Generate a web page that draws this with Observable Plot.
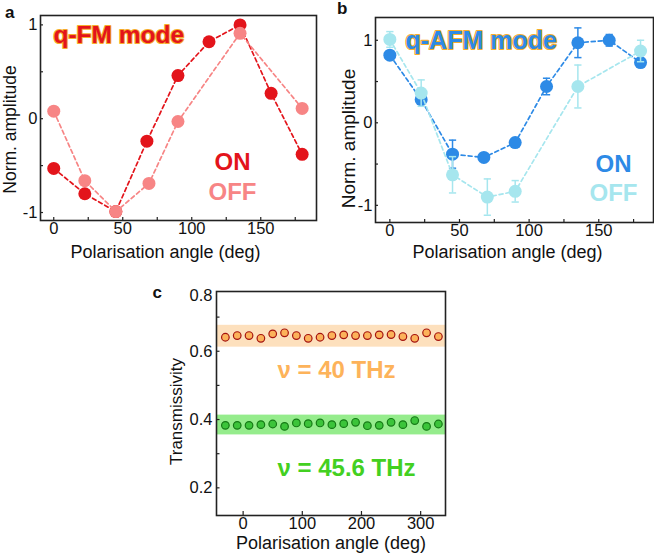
<!DOCTYPE html>
<html>
<head>
<meta charset="utf-8">
<script src="https://cdn.jsdelivr.net/npm/d3@7"></script>
<script src="https://cdn.jsdelivr.net/npm/@observablehq/plot@0.6"></script>
<style>
  html, body { margin: 0; padding: 0; background: #fff; }
  #wrap { position: relative; width: 654px; height: 558px; overflow: hidden; font-family: "Liberation Sans", Arial, Helvetica, sans-serif; }
  .panel { position: absolute; }
  .letter { position: absolute; font-weight: bold; font-size: 17px; line-height: 17px; color: #111; }
</style>
</head>
<body>
<div id="wrap">
  <div class="panel" id="pa" style="left:0px;top:0px"></div>
  <div class="panel" id="pb" style="left:330px;top:0px"></div>
  <div class="panel" id="pc" style="left:140px;top:280px"></div>
  <div class="letter" style="left:5px;top:3.6px">a</div>
  <div class="letter" style="left:337px;top:0px">b</div>
  <div class="letter" style="left:152.5px;top:283.6px">c</div>
</div>
<script>
// ---------- Panel a : q-FM mode ----------
const angA = [0, 22.5, 45, 67.5, 90, 112.5, 135, 157.5, 180];
const onA = [-0.53, -0.80, -0.99, -0.24, 0.46, 0.82, 1.0, 0.27, -0.38];
const angAOff = [0, 22.5, 45, 69, 90, 135, 180];
const offA = [0.08, -0.66, -0.99, -0.69, -0.03, 0.91, 0.11];

// ---------- Panel b : q-AFM mode ----------
const angB = [0, 22.5, 45, 67.5, 90, 112.5, 135, 157.5, 180];
const onB = [0.82, 0.28, -0.38, -0.42, -0.24, 0.44, 0.97, 1.0, 0.73];
const errOnB = [0.03, 0.04, 0.17, 0.04, 0.05, 0.10, 0.18, 0.07, 0.03];
const angBOff = [0, 22.5, 45, 70, 90, 135, 180];
const offB = [1.01, 0.36, -0.63, -0.90, -0.83, 0.44, 0.87];
const errOffB = [0.095, 0.16, 0.22, 0.22, 0.13, 0.26, 0.13];

// ---------- Panel c : transmissivity ----------
const angC = [-30, -10, 10, 30, 50, 70, 90, 110, 130, 150, 170, 190, 210, 230, 250, 270, 290, 310, 330];
const trans40 = [0.641, 0.646, 0.646, 0.638, 0.651, 0.654, 0.646, 0.638, 0.641, 0.646, 0.648, 0.646, 0.646, 0.648, 0.649, 0.643, 0.638, 0.654, 0.643];
const trans456 = [0.383, 0.383, 0.383, 0.385, 0.387, 0.380, 0.390, 0.388, 0.390, 0.385, 0.388, 0.392, 0.382, 0.383, 0.392, 0.385, 0.397, 0.380, 0.387];
const band40 = [0.612, 0.676];
const band456 = [0.355, 0.413];

// ---------- tick arrays ----------
const xTickLabelsAB = [0, 50, 100, 150];
const xTickMarksAB = [0, 25, 50, 75, 100, 125, 150, 175];
const yTickLabelsAB = [-1, 0, 1];
const yTickMarksAB = [-1, -0.5, 0, 0.5, 1];
const xTickLabelsC = [0, 100, 200, 300];
const yTickLabelsC = [0.2, 0.4, 0.6];
const yTickMarksC = [0.2, 0.3, 0.4, 0.5, 0.6, 0.7];
const yTopLabelC = "0.8";

const FONT = '"Liberation Sans", Arial, Helvetica, sans-serif';
const rows = (xs, ys, es) => xs.map((x, i) => ({x, y: ys[i], e: es ? es[i] : 0}));

const C = {
  redOn: "#e3141b", redOff: "#f78585",
  blueOn: "#2d8ae6", blueOff: "#a6e6ee",
  outline: "#f6ad2c",
  orFill: "#fcb25a", orStroke: "#a5130f", orBand: "#fde0bd", orText: "#fdb35a",
  grFill: "#3cc43a", grStroke: "#157a15", grBand: "#95ec8c", grText: "#43d021",
  frame: "#222"
};

const T = (s, o) => Plot.text([s], {textAnchor: "middle", lineAnchor: "middle", fill: "#111", ...o});

function axesAB(labelSize) {
  return [
    Plot.axisX({ticks: xTickMarksAB, tickSize: -3, text: null, label: null, stroke: C.frame, strokeWidth: 1.2}),
    Plot.axisY({ticks: yTickMarksAB, tickSize: -3, text: null, label: null, stroke: C.frame, strokeWidth: 1.2}),
    Plot.axisX({ticks: xTickLabelsAB, tickSize: 0, tickPadding: 2, label: null, fontSize: labelSize, fill: "#111", tickFormat: d => String(d)}),
    Plot.axisY({ticks: yTickLabelsAB, tickSize: 0, tickPadding: 3, label: null, fontSize: labelSize, fill: "#111", tickFormat: d => String(d)})
  ];
}

// Panel a
const dOnA = rows(angA, onA), dOffA = rows(angAOff, offA);
const plotA = Plot.plot({
  width: 330, height: 265,
  marginLeft: 40, marginRight: 14, marginTop: 15, marginBottom: 45,
  style: {fontFamily: FONT, background: "transparent", overflow: "visible"},
  x: {domain: [-9.6, 190.4]},
  y: {domain: [-1.085, 1.1]},
  marks: [
    ...axesAB(16.5),
    Plot.line(dOnA, {x: "x", y: "y", stroke: C.redOn, strokeWidth: 1.7, strokeDasharray: "4,3"}),
    Plot.dot(dOnA, {x: "x", y: "y", r: 6.5, fill: C.redOn}),
    Plot.line(dOffA, {x: "x", y: "y", stroke: C.redOff, strokeWidth: 1.7, strokeDasharray: "4,3"}),
    Plot.dot(dOffA, {x: "x", y: "y", r: 6.5, fill: C.redOff}),
    Plot.frame({stroke: C.frame, strokeWidth: 1.6}),
    T("q-FM mode", {frameAnchor: "top-left", dx: 13, dy: 20, textAnchor: "start", fontSize: 24.5, fontWeight: "bold", fill: C.redOn, stroke: C.outline, strokeWidth: 2.2, paintOrder: "stroke"}),
    T("ON", {frameAnchor: "bottom-right", dx: -84, dy: -58, fontSize: 24, fontWeight: "bold", fill: C.redOn}),
    T("OFF", {frameAnchor: "bottom-right", dx: -84, dy: -28, fontSize: 24, fontWeight: "bold", fill: C.redOff}),
    T("Norm. amplitude", {frameAnchor: "left", rotate: -90, dx: -30.5, dy: 11.5, fontSize: 17.5}),
    T("Polarisation angle (deg)", {frameAnchor: "bottom", dx: -13, dy: 32, fontSize: 18})
  ]
});
document.getElementById("pa").appendChild(plotA);

// Panel b
const dOnB = rows(angB, onB, errOnB), dOffB = rows(angBOff, offB, errOffB);
function errMarks(data, color) {
  return [
    Plot.ruleX(data, {x: "x", y1: d => d.y - d.e, y2: d => d.y + d.e, stroke: color, strokeWidth: 1.5}),
    Plot.link(data, {x1: d => d.x - 2.6, x2: d => d.x + 2.6, y1: d => d.y + d.e, y2: d => d.y + d.e, stroke: color, strokeWidth: 1.5}),
    Plot.link(data, {x1: d => d.x - 2.6, x2: d => d.x + 2.6, y1: d => d.y - d.e, y2: d => d.y - d.e, stroke: color, strokeWidth: 1.5})
  ];
}
const plotB = Plot.plot({
  width: 324, height: 265,
  marginLeft: 45, marginRight: 1, marginTop: 17, marginBottom: 43,
  style: {fontFamily: FONT, background: "transparent", overflow: "visible"},
  x: {domain: [-10.3, 189.3]},
  y: {domain: [-1.208, 1.276]},
  marks: [
    ...axesAB(16.5),
    Plot.line(dOnB, {x: "x", y: "y", stroke: C.blueOn, strokeWidth: 1.7, strokeDasharray: "4,3"}),
    ...errMarks(dOnB, C.blueOn),
    Plot.dot(dOnB, {x: "x", y: "y", r: 6.5, fill: C.blueOn}),
    Plot.line(dOffB, {x: "x", y: "y", stroke: C.blueOff, strokeWidth: 1.7, strokeDasharray: "4,3"}),
    ...errMarks(dOffB, C.blueOff),
    Plot.dot(dOffB, {x: "x", y: "y", r: 6.5, fill: C.blueOff}),
    Plot.frame({stroke: C.frame, strokeWidth: 1.6}),
    T("q-AFM mode", {frameAnchor: "top-left", dx: 30, dy: 23, textAnchor: "start", fontSize: 25, fontWeight: "bold", fill: C.blueOn, stroke: C.outline, strokeWidth: 2.2, paintOrder: "stroke"}),
    T("ON", {frameAnchor: "bottom-right", dx: -40, dy: -58, fontSize: 24, fontWeight: "bold", fill: C.blueOn}),
    T("OFF", {frameAnchor: "bottom-right", dx: -40, dy: -29, fontSize: 24, fontWeight: "bold", fill: C.blueOff}),
    T("Norm. amplitude", {frameAnchor: "left", rotate: -90, dx: -27, dy: 18.5, fontSize: 19}),
    T("Polarisation angle (deg)", {frameAnchor: "bottom", dx: -7, dy: 30, fontSize: 18})
  ]
});
document.getElementById("pb").appendChild(plotB);

// Panel c
const d40 = rows(angC, trans40), d456 = rows(angC, trans456);
const plotC = Plot.plot({
  width: 320, height: 278,
  marginLeft: 76, marginRight: 15, marginTop: 11, marginBottom: 43,
  style: {fontFamily: FONT, background: "transparent", overflow: "visible"},
  x: {domain: [-45, 342]},
  y: {domain: [0.119, 0.775]},
  marks: [
    Plot.rect([band40], {y1: d => d[0], y2: d => d[1], fill: C.orBand}),
    Plot.rect([band456], {y1: d => d[0], y2: d => d[1], fill: C.grBand}),
    Plot.axisX({ticks: xTickLabelsC, tickSize: -4, text: null, label: null, stroke: C.frame, strokeWidth: 1.2}),
    Plot.axisY({ticks: yTickMarksC, tickSize: -3.5, text: null, label: null, stroke: C.frame, strokeWidth: 1.2}),
    Plot.axisX({ticks: xTickLabelsC, tickSize: 0, tickPadding: 2, label: null, fontSize: 16.5, fill: "#111", tickFormat: d => String(d)}),
    Plot.axisY({ticks: yTickLabelsC, tickSize: 0, tickPadding: 4, label: null, fontSize: 16.5, fill: "#111", tickFormat: d => String(d)}),
    T(yTopLabelC, {frameAnchor: "top-left", textAnchor: "end", dx: -4, dy: 4, fontSize: 16.5}),
    Plot.dot(d40, {x: "x", y: "y", r: 3.8, fill: C.orFill, stroke: C.orStroke, strokeWidth: 1.2}),
    Plot.dot(d456, {x: "x", y: "y", r: 3.8, fill: C.grFill, stroke: C.grStroke, strokeWidth: 1.2}),
    Plot.frame({stroke: C.frame, strokeWidth: 1.6}),
    T("ν = 40 THz", {frameAnchor: "top-left", textAnchor: "start", dx: 61, dy: 79, fontSize: 24, fontWeight: "bold", fill: C.orText}),
    T("ν = 45.6 THz", {frameAnchor: "top-left", textAnchor: "start", dx: 61, dy: 177, fontSize: 24, fontWeight: "bold", fill: C.grText}),
    T("Transmissivity", {frameAnchor: "left", rotate: -90, dx: -40, dy: 8, fontSize: 17}),
    T("Polarisation angle (deg)", {frameAnchor: "bottom", dx: 0, dy: 28, fontSize: 18})
  ]
});
document.getElementById("pc").appendChild(plotC);
</script>
</body>
</html>
